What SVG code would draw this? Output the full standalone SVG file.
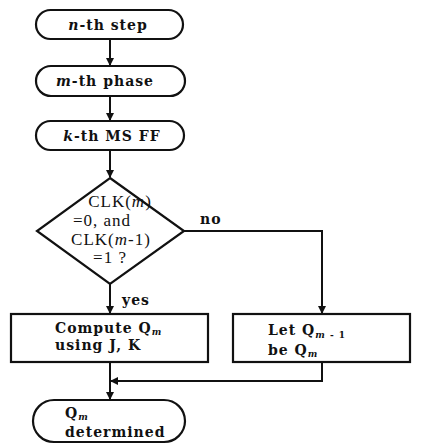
<svg xmlns="http://www.w3.org/2000/svg" width="438" height="445" viewBox="0 0 438 445">
<style>
.s{fill:#fff;stroke:#111;stroke-width:2.2}
.c{fill:none;stroke:#111;stroke-width:2}
.t{font-family:"DejaVu Serif",serif;font-size:14px;font-weight:bold;fill:#111;letter-spacing:1px}
.d{font-family:"Liberation Serif",serif;font-size:17px;fill:#111;letter-spacing:1px}
.i{font-style:italic}
.sub{font-size:9px}
</style>
<defs>
<marker id="a" markerWidth="8" markerHeight="10" refX="7" refY="5" orient="auto" markerUnits="userSpaceOnUse">
<path d="M0,1 L8,5 L0,9 Z" fill="#111"/>
</marker>
</defs>
<g id="connectors">
<line class="c" x1="110" y1="39" x2="110" y2="65" marker-end="url(#a)"/>
<line class="c" x1="110" y1="96" x2="110" y2="120" marker-end="url(#a)"/>
<line class="c" x1="110" y1="150" x2="110" y2="177" marker-end="url(#a)"/>
<line class="c" x1="110" y1="284" x2="110" y2="313" marker-end="url(#a)"/>
<polyline class="c" points="184,231 322,231 322,313" marker-end="url(#a)"/>
<polyline class="c" points="322,362 322,381 111,381" marker-end="url(#a)"/>
<line class="c" x1="110" y1="362" x2="110" y2="399" marker-end="url(#a)"/>
<text class="t" x="200" y="224">no</text>
<text class="t" x="122" y="305">yes</text>
</g>
<g id="step">
<rect class="s" x="36" y="10" width="147" height="29" rx="14.5"/>
<text class="t" x="108" y="30" text-anchor="middle"><tspan class="i">n</tspan>-th step</text>
</g>
<g id="phase">
<rect class="s" x="36" y="66" width="149" height="30" rx="15"/>
<text class="t" x="105" y="86" text-anchor="middle"><tspan class="i">m</tspan>-th phase</text>
</g>
<g id="msff">
<rect class="s" x="36" y="121" width="148" height="29" rx="14.5"/>
<text class="t" x="112" y="141" text-anchor="middle"><tspan class="i">k</tspan>-th MS FF</text>
</g>
<g id="decision">
<polygon class="s" points="110,178 184,231 110,284 37,231"/>
<text class="d" x="120" y="207" text-anchor="middle">CLK(<tspan class="i">m</tspan>)</text>
<text class="d" x="102" y="226" text-anchor="middle">=0, and</text>
<text class="d" x="111" y="245" text-anchor="middle">CLK(<tspan class="i">m</tspan>-1)</text>
<text class="d" x="110" y="263" text-anchor="middle">=1 ?</text>
</g>
<g id="compute">
<rect class="s" x="11" y="314" width="197" height="48"/>
<text class="t" x="55" y="333">Compute Q<tspan class="sub i" dy="2">m</tspan></text>
<text class="t" x="55" y="350">using J, K</text>
</g>
<g id="let">
<rect class="s" x="233" y="314" width="177" height="48"/>
<text class="t" x="268" y="335">Let  Q<tspan class="sub" dy="3"><tspan class="i">m</tspan> - 1</tspan></text>
<text class="t" x="268" y="355">be   Q<tspan class="sub i" dy="2">m</tspan></text>
</g>
<g id="determined">
<rect class="s" x="33" y="400" width="152" height="42" rx="21"/>
<text class="t" x="65" y="418">Q<tspan class="sub i" dy="2">m</tspan></text>
<text class="t" x="65" y="437">determined</text>
</g>
</svg>
